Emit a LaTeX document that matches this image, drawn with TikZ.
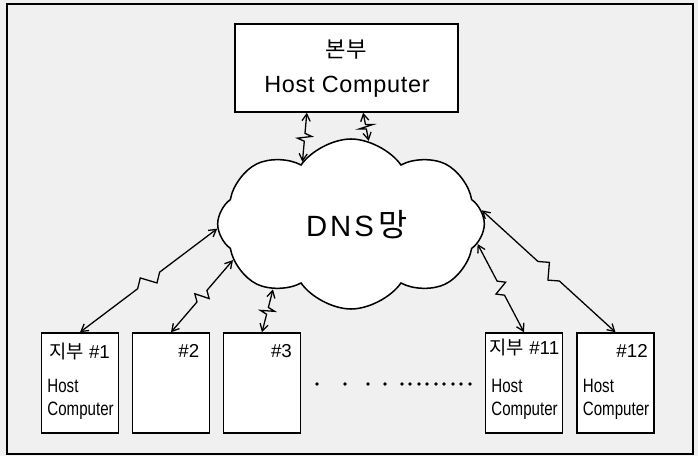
\documentclass[tikz,border=0pt]{standalone}
\usepackage{fontspec}
\setmainfont{Liberation Sans}
\newfontfamily\krfont{Noto Sans CJK KR}
\newfontfamily\narrowfont[FakeStretch=0.78]{Liberation Sans}
\usetikzlibrary{shapes.symbols,arrows.meta,calc,positioning}

\tikzset{
  hostbox/.style={draw, line width=1.3pt, fill=white, inner sep=0pt},
  branch/.style={hostbox, minimum width=2.32cm, minimum height=3cm},
  numlabel/.style={anchor=east, inner sep=0pt, font=\fontsize{16}{19}\selectfont},
  hostlabel/.style={anchor=west, inner sep=0pt, font=\narrowfont\fontsize{16.5}{19}\selectfont},
  link/.style={{Straight Barb[length=6pt,width=7pt]}-{Straight Barb[length=6pt,width=7pt]},
    line width=1.1pt,
    to path={-- ($(\tikztostart)!.42!(\tikztotarget)$)
             -- ($(\tikztostart)!.47!(\tikztotarget)!6pt!90:(\tikztotarget)$)
             -- ($(\tikztostart)!.53!(\tikztotarget)!6pt!-90:(\tikztotarget)$)
             -- ($(\tikztostart)!.58!(\tikztotarget)$)
             -- (\tikztotarget) \tikztonodes}},
}

\begin{document}
\begin{tikzpicture}[x=0.03cm, y=-0.03cm]
  \useasboundingbox (0,0) rectangle (698,456);
  \fill[gray!12] (0,0) rectangle (698,456);
  \draw[line width=1.2pt] (7,4) rectangle (693,454);

  % head office
  \node[hostbox, minimum width=6.69cm, minimum height=2.64cm] (hq) at (346.5,68) {};
  \node[inner sep=0pt] (hqname) at (346,50) {\krfont\fontsize{19}{22}\selectfont 본부};
  \node[inner sep=0pt] (hqtext) at (347,87) {\fontsize{20}{24}\selectfont\addfontfeature{LetterSpace=3}Host Computer};

  % network
  \node[cloud, draw, line width=1.3pt, fill=white, cloud puffs=8, cloud puff arc=110,
        aspect=1.6, minimum width=8cm, minimum height=5.1cm, inner sep=0pt] (dns) at (351,224) {};
  \node[inner sep=0pt] (dnsname) at (357,225)
       {\fontsize{25}{29}\selectfont\addfontfeature{LetterSpace=10}DNS\,{\krfont\fontsize{27}{30}\selectfont 망}};

  % branches
  \node[branch] (b1) at (80,383) {};
  \node[branch] (b2) at (171,383) {};
  \node[branch] (b3) at (262,383) {};
  \node[branch] (b11) at (524,383) {};
  \node[branch] (b12) at (615.5,383) {};

  \node[numlabel] (n1) at ([xshift=-0.28cm, yshift=-0.57cm]b1.north east) {{\krfont 지부} \#1};
  \node[numlabel] (n2) at ([xshift=-0.33cm, yshift=-0.57cm]b2.north east) {\#2};
  \node[numlabel] (n3) at ([xshift=-0.28cm, yshift=-0.57cm]b3.north east) {\#3};
  \node[numlabel] (n11) at ([xshift=-0.12cm, yshift=-0.45cm]b11.north east) {{\krfont 지부} \#11};
  \node[numlabel] (n12) at ([xshift=-0.21cm, yshift=-0.57cm]b12.north east) {\#12};

  \foreach \b in {b1, b11, b12} {
    \node[hostlabel] (\b host) at ([xshift=0.2cm, yshift=-1.62cm]\b.north west) {Host};
    \node[hostlabel] (\b comp) at ([xshift=0.2cm, yshift=-2.37cm]\b.north west) {Computer};
  }

  \foreach \x in {317, 345, 368, 385, 402, 410, 419, 427, 436, 444, 453, 461, 470}
    \fill (\x,384) circle (1.5pt);

  % links
  \draw[link] ([xshift=-1.19cm]hq.south) to (dns.128);
  \draw[link] ([xshift=0.5cm]hq.south) to (dns.78);
  \draw[link] (b1.north) to (dns.182);
  \draw[link] (b2.north) to (dns.197);
  \draw[link] (b3.north) to (dns.220);
  \draw[link] (b11.north) to (dns.351);
  \draw[link] (b12.north) to (dns.6);
\end{tikzpicture}
\end{document}
